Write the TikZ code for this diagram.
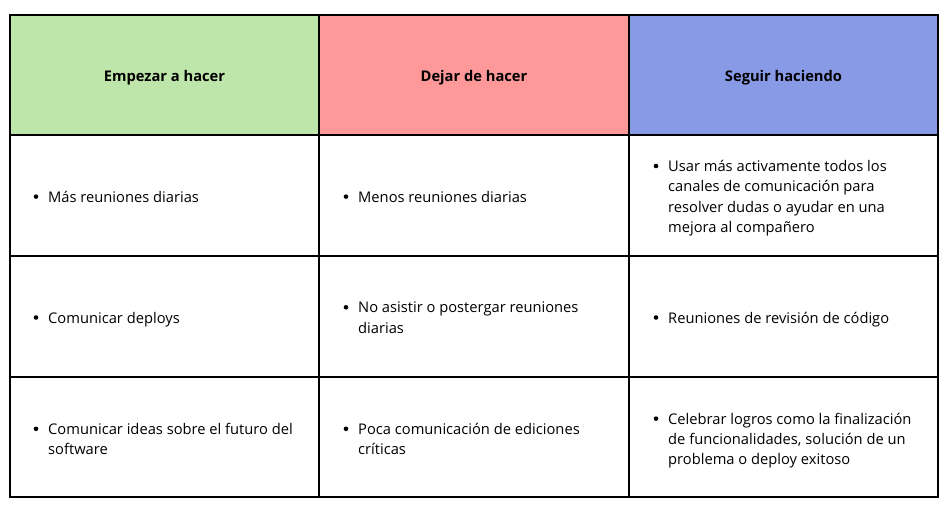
\documentclass[tikz,border=0pt]{standalone}
\usepackage{fontspec}
\setmainfont{Open Sans}
\definecolor{hgreen}{RGB}{191,230,170}
\definecolor{hred}{RGB}{255,153,153}
\definecolor{hblue}{RGB}{136,153,230}
\newcommand{\itemlines}[1]{\fontsize{14.7}{20.4}\selectfont\begin{tabular}{@{}l@{}}#1\end{tabular}}
\begin{document}
\begin{tikzpicture}[x=1pt,y=-1pt,
  gridline/.style={line width=2pt, black},
  headtxt/.style={font=\fontsize{14.7}{17}\selectfont\bfseries, inner sep=0pt, anchor=base},
  itemtxt/.style={inner sep=0pt, anchor=west},
  bulletdot/.style={circle, fill=black, inner sep=0pt, minimum size=4.6pt}]
\useasboundingbox (0,0) rectangle (949,506);
\fill[white] (0,0) rectangle (949,506);
% header fills
\fill[hgreen] (9.5,14.7) rectangle (319,135.3);
\fill[hred] (319,14.7) rectangle (628.5,135.3);
\fill[hblue] (628.5,14.7) rectangle (938,135.3);
% grid
\draw[gridline] (9.5,14.7) rectangle (938,496.5);
\draw[gridline] (319,14.7) -- (319,496.5);
\draw[gridline] (628.5,14.7) -- (628.5,496.5);
\draw[gridline] (9.5,135.3) -- (938,135.3);
\draw[gridline] (9.5,256) -- (938,256);
\draw[gridline] (9.5,377) -- (938,377);
% headers
\node[headtxt] (h1) at (164.5,81) {Empezar a hacer};
\node[headtxt] (h2) at (474,81) {Dejar de hacer};
\node[headtxt] (h3) at (783.5,81) {Seguir haciendo};
% row 1
\node[itemtxt] (a1) at (48,198.1) {\itemlines{Más reuniones diarias}};
\node[itemtxt] (b1) at (358,198.1) {\itemlines{Menos reuniones diarias}};
\node[itemtxt] (c1) at (668,198.1) {\itemlines{Usar más activamente todos los\\canales de comunicación para\\resolver dudas o ayudar en una\\mejora al compañero}};
% row 2
\node[itemtxt] (a2) at (48,319) {\itemlines{Comunicar deploys}};
\node[itemtxt] (b2) at (358,319) {\itemlines{No asistir o postergar reuniones\\diarias}};
\node[itemtxt] (c2) at (668,319) {\itemlines{Reuniones de revisión de código}};
% row 3
\node[itemtxt] (a3) at (48,440.5) {\itemlines{Comunicar ideas sobre el futuro del\\software}};
\node[itemtxt] (b3) at (358,440.5) {\itemlines{Poca comunicación de ediciones\\críticas}};
\node[itemtxt] (c3) at (668,440.5) {\itemlines{Celebrar logros como la finalización\\de funcionalidades, solución de un\\problema o deploy exitoso}};
% bullets
\foreach \n in {a1,b1,c1,a2,b2,c2,a3,b3,c3}
  \node[bulletdot] (dot\n) at ([xshift=-12pt,yshift=-8.9pt]\n.north west) {};
\end{tikzpicture}
\end{document}
